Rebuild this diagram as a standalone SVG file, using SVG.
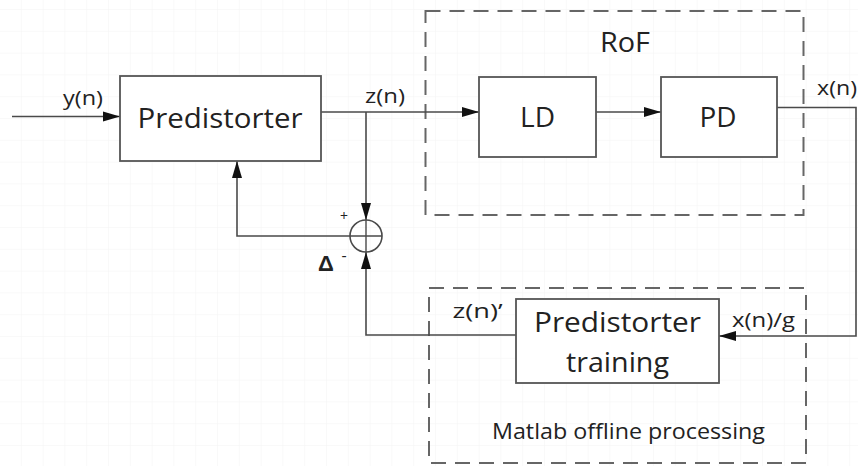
<svg xmlns="http://www.w3.org/2000/svg" width="858" height="466" viewBox="0 0 858 466">
<defs>
<pattern id="grid" width="21.8" height="21.8" patternUnits="userSpaceOnUse" x="0" y="10">
<path d="M21.8 0V21.8M0 21.8H21.8" fill="none" stroke="#f3f3f3" stroke-width="1"/>
</pattern>
<marker id="arr" markerWidth="18" markerHeight="12" refX="17" refY="6" orient="auto" markerUnits="userSpaceOnUse">
<path d="M0,1 L17,6 L0,11 Z" fill="#111"/>
</marker>
</defs>
<style>
.box{fill:#fff;stroke:#555;stroke-width:1.8}
.dash{fill:none;stroke:#666;stroke-width:2;stroke-dasharray:15 9}
.ln{fill:none;stroke:#4a4a4a;stroke-width:1.6}
.t{font-family:"Open Sans","Noto Sans",sans-serif;fill:#222}
.big{font-size:27px}
.lab{font-size:20px}
</style>
<rect width="858" height="466" fill="#fff"/>
<rect width="858" height="466" fill="url(#grid)"/>

<g id="rof-group">
<rect class="dash" x="425.5" y="11" width="378" height="204"/>
<text class="t big" x="625" y="52" text-anchor="middle" textLength="50" lengthAdjust="spacingAndGlyphs">RoF</text>
</g>
<g id="matlab-group">
<rect class="dash" x="429" y="288" width="377" height="175"/>
<text class="t" font-size="21" x="628.5" y="439" text-anchor="middle" textLength="273" lengthAdjust="spacingAndGlyphs">Matlab offline processing</text>
</g>

<g id="connectors">
<path class="ln" d="M12,116.5 H120" marker-end="url(#arr)"/>
<path class="ln" d="M321,112 H479" marker-end="url(#arr)"/>
<path class="ln" d="M596,112 H661" marker-end="url(#arr)"/>
<path class="ln" d="M366,112 V220" marker-end="url(#arr)"/>
<path class="ln" d="M350,236 H237 V161" marker-end="url(#arr)"/>
<path class="ln" d="M777,107.5 H856 V336 H719" marker-end="url(#arr)"/>
<path class="ln" d="M516,335 H366 V252" marker-end="url(#arr)"/>
</g>

<g id="predistorter">
<rect class="box" x="120" y="76" width="201" height="85"/>
<text class="t big" x="220" y="128" text-anchor="middle" textLength="165" lengthAdjust="spacingAndGlyphs">Predistorter</text>
</g>
<g id="ld">
<rect class="box" x="479" y="77" width="117" height="80"/>
<text class="t big" x="537.5" y="127" text-anchor="middle" textLength="35" lengthAdjust="spacingAndGlyphs">LD</text>
</g>
<g id="pd">
<rect class="box" x="661" y="77" width="116" height="80"/>
<text class="t big" x="718" y="127" text-anchor="middle" textLength="37" lengthAdjust="spacingAndGlyphs">PD</text>
</g>
<g id="training">
<rect class="box" x="516" y="299" width="203" height="84"/>
<text class="t big" x="617.5" y="332" text-anchor="middle" textLength="167" lengthAdjust="spacingAndGlyphs">Predistorter</text>
<text class="t big" x="617.5" y="372" text-anchor="middle" textLength="103" lengthAdjust="spacingAndGlyphs">training</text>
</g>
<g id="sum">
<circle cx="366" cy="236" r="16" fill="none" stroke="#4a4a4a" stroke-width="1.6"/>
<path d="M350,236 H382 M366,220 V252" stroke="#4a4a4a" stroke-width="1.4"/>
<text class="t" x="344" y="221" font-size="14" text-anchor="middle">+</text>
<text class="t" x="344" y="261" font-size="16" text-anchor="middle">-</text>
<text x="326" y="271" font-size="22" font-weight="bold" fill="#222" text-anchor="middle" font-family="'Liberation Sans',sans-serif">Δ</text>
</g>

<g id="labels">
<text class="t lab" x="83" y="105" text-anchor="middle" textLength="40" lengthAdjust="spacingAndGlyphs">y(n)</text>
<text class="t lab" x="385" y="103" text-anchor="middle" textLength="40" lengthAdjust="spacingAndGlyphs">z(n)</text>
<text class="t lab" x="837" y="95" text-anchor="middle" textLength="40" lengthAdjust="spacingAndGlyphs">x(n)</text>
<text class="t lab" x="477.5" y="318" text-anchor="middle" textLength="50" lengthAdjust="spacingAndGlyphs">z(n)’</text>
<text class="t lab" x="763.5" y="327" text-anchor="middle" textLength="63" lengthAdjust="spacingAndGlyphs">x(n)/g</text>
</g>
</svg>
